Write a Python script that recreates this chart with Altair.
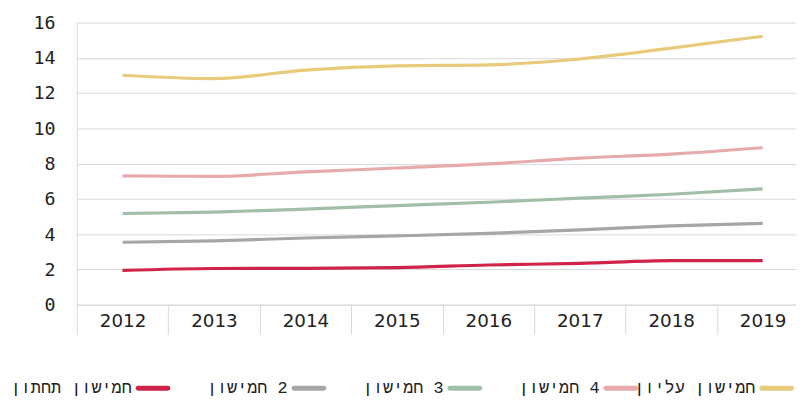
import altair as alt
import pandas as pd

# ---- data ----
years = ["2012", "2013", "2014", "2015", "2016", "2017", "2018", "2019"]

names = ["חמישון תחתון", "חמישון 2", "חמישון 3", "חמישון 4", "חמישון עליון"]
colors = ["#D0234A", "#A6A6A6", "#A1BFA6", "#E5AAA9", "#E8CA7B"]

q_bottom = [1.94, 2.05, 2.06, 2.10, 2.25, 2.34, 2.50, 2.50]
q_2 = [3.54, 3.62, 3.78, 3.90, 4.04, 4.24, 4.47, 4.61]
q_3 = [5.17, 5.25, 5.42, 5.62, 5.81, 6.04, 6.26, 6.57]
q_4 = [7.30, 7.28, 7.53, 7.75, 7.98, 8.31, 8.54, 8.90]
q_top = [13.01, 12.82, 13.30, 13.54, 13.60, 13.93, 14.55, 15.22]

series = [q_bottom, q_2, q_3, q_4, q_top]

rows = []
for n, vals in zip(names, series):
    for yr, v in zip(years, vals):
        rows.append({"year": yr, "value": v, "series": n})
df = pd.DataFrame(rows)


def display_label(text):
    # keep the number to the right of the Hebrew word, as in the reference
    parts = text.split(" ")
    if parts[-1].isdigit():
        return "\u2066\u2067" + " ".join(parts[:-1]) + "\u2069 " + parts[-1] + "\u2069"
    return text


leg = pd.DataFrame({
    "name": names,
    "label": [display_label(n) for n in names],
})

GRID = "#d9d9d9"
color_scale = alt.Scale(domain=names, range=colors)

lines = alt.Chart(df).mark_line(strokeWidth=3.2, interpolate="monotone").encode(
    x=alt.X(
        "year:O",
        title=None,
        sort=years,
        scale=alt.Scale(type="band", paddingInner=0, paddingOuter=0, range=[0, 739]),
        axis=alt.Axis(
            labelAngle=0,
            tickBand="extent",
            tickSize=30,
            tickColor=GRID,
            tickWidth=1,
            domainColor=GRID,
            labelPadding=-23,
            labelFont="DejaVu Sans",
            labelFontSize=18.5,
            labelColor="#222222",
            grid=False,
        ),
    ),
    y=alt.Y(
        "value:Q",
        title=None,
        scale=alt.Scale(domain=[0, 16], nice=False),
        axis=alt.Axis(
            values=list(range(0, 17, 2)),
            ticks=False,
            labelPadding=22,
            domainColor=GRID,
            gridColor=GRID,
            labelFont="DejaVu Sans Mono",
            labelFontSize=18.5,
            labelColor="#222222",
        ),
    ),
    color=alt.Color("series:N", scale=color_scale, legend=None),
)

leg_x = alt.X(
    "name:N",
    sort=names,
    scale=alt.Scale(type="point", domain=names, range=[77, 707], padding=0),
    axis=None,
)

sym = alt.Chart(leg).mark_rule(
    strokeWidth=5, strokeCap="round", xOffset=-15, x2Offset=15
).encode(
    x=leg_x,
    x2=alt.X2("name:N"),
    y=alt.value(369.5),
    color=alt.Color("name:N", scale=color_scale, legend=None),
)

txt = alt.Chart(leg).mark_text(
    align="right", baseline="middle", dx=-21.5,
    font="Liberation Mono", fontSize=17, color="#222222",
).encode(
    x=leg_x,
    y=alt.value(369.5),
    text="label:N",
)

legend_layer = alt.layer(sym, txt)

chart = alt.layer(lines, legend_layer).resolve_scale(x="independent").properties(
    width=726.5,
    height=285,
    autosize=alt.AutoSizeParams(type="none"),
    padding={"left": 69.5, "top": 12.7, "right": 0, "bottom": 93},
).configure_view(stroke=None)

chart.save("out.html", embed_options={"renderer": "svg", "actions": False})
